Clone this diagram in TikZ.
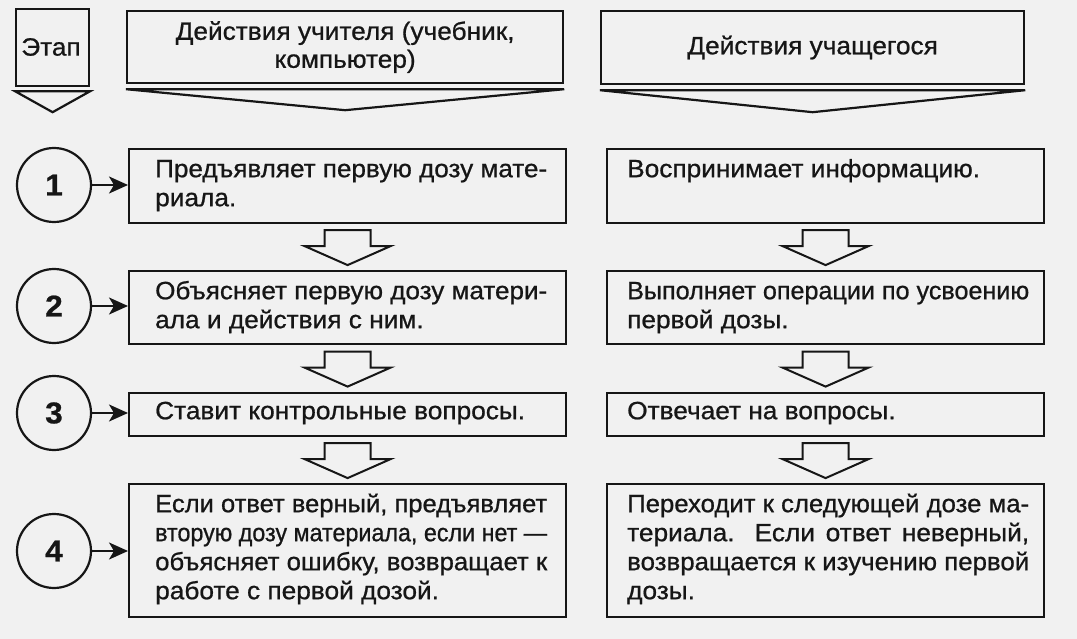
\documentclass[tikz,border=0pt]{standalone}
\usepackage{fontspec}
\setmainfont{Liberation Sans}[FakeBold=0.8,FakeStretch=1.05]
\usepackage{graphicx}
\usetikzlibrary{arrows.meta,calc}
\definecolor{paper}{RGB}{241,241,241}
\definecolor{ink}{RGB}{22,22,22}
\newlength\jlw
\newcommand\jl[2]{\settowidth\jlw{#2}\ifdim\jlw>#1\relax\resizebox{#1}{\height}{#2}\else\makebox[#1][s]{#2}\fi}
\newcommand\fl{\rule{0pt}{22pt}}
\tikzset{
  frame/.style={draw=ink, line width=2.2pt, inner sep=0pt, anchor=north west},
  txt/.style={inner sep=0pt, align=left, text=ink, anchor=north west, font=\fontsize{25}{29}\selectfont},
  htxt/.style={inner sep=0pt, align=center, text=ink, font=\fontsize{25}{28}\selectfont},
  stage/.style={circle, draw=ink, line width=2.2pt, minimum size=74pt, inner sep=0pt, text=ink, font=\bfseries\fontsize{30}{30}\selectfont},
  link/.style={draw=ink, line width=2.2pt, -{Stealth[length=19pt,width=17pt,inset=5pt]}},
  tri/.style={draw=ink, line width=2.2pt, line join=miter},
  blk/.style={draw=ink, line width=2pt, line join=miter},
  downblk/.pic={\draw[blk] (-23,-17) -- (-23,-1) -- (-43,-1) -- (0,18) -- (43,-1) -- (23,-1) -- (23,-17) -- cycle;}
}
\begin{document}
\begin{tikzpicture}[x=1pt,y=-1pt]
\fill[paper] (0,0) rectangle (1077,639);
\useasboundingbox (0,0) rectangle (1077,639);

% headers
\node[frame, minimum width=73pt, minimum height=77pt] (h0) at (15,8) {};
\node[htxt] (h0t) at (51,47) {Этап};
\draw[tri] ($(h0.south west)+(0,4)$) -- ($(h0.south)+(0,25)$) -- ($(h0.south east)+(0,4)$) -- cycle;

\node[frame, minimum width=436pt, minimum height=72pt] (h1) at (126,10) {};
\node[htxt] (h1t) at (h1.center) {Действия учителя (учебник,\\компьютер)};
\draw[tri] ($(h1.south west)+(0,5)$) -- ($(h1.south)+(0,26)$) -- ($(h1.south east)+(0,5)$) -- cycle;

\node[frame, minimum width=423pt, minimum height=73pt] (h2) at (600,10) {};
\node[htxt] (h2t) at (h2.center) {Действия учащегося};
\draw[tri] ($(h2.south west)+(0,5)$) -- ($(h2.south)+(0,27)$) -- ($(h2.south east)+(0,5)$) -- cycle;

% teacher boxes
\node[frame, minimum width=437pt, minimum height=74pt] (t1) at (128,148) {};
\node[frame, minimum width=437pt, minimum height=73pt] (t2) at (128,270) {};
\node[frame, minimum width=437pt, minimum height=43pt] (t3) at (128,392) {};
\node[frame, minimum width=437pt, minimum height=133pt] (t4) at (128,483) {};
% student boxes
\node[frame, minimum width=437pt, minimum height=74pt] (s1) at (606,148) {};
\node[frame, minimum width=437pt, minimum height=73pt] (s2) at (606,270) {};
\node[frame, minimum width=437pt, minimum height=43pt] (s3) at (606,392) {};
\node[frame, minimum width=437pt, minimum height=133pt] (s4) at (606,483) {};

% texts (first baseline = node top + 22pt)
\node[txt] (tt1) at (155,155) {\fl\jl{392pt}{Предъявляет первую дозу мате-}\\риала.};
\node[txt] (tt2) at (155,277) {\fl\jl{392pt}{Объясняет первую дозу матери-}\\ала и действия с ним.};
\node[txt] (tt3) at (155,397) {\fl Ставит контрольные вопросы.};
\node[txt] (tt4) at (155,490) {\fl\jl{392pt}{Если ответ верный, предъявляет}\\\jl{392pt}{вторую дозу материала, если нет —}\\\jl{392pt}{объясняет ошибку, возвращает к}\\работе с первой дозой.};

\node[txt] (st1) at (627,155) {\fl Воспринимает информацию.};
\node[txt] (st2) at (627,277) {\fl\jl{402pt}{Выполняет операции по усвоению}\\первой дозы.};
\node[txt] (st3) at (627,397) {\fl Отвечает на вопросы.};
\node[txt] (st4) at (627,490) {\fl\jl{402pt}{Переходит к следующей дозе ма-}\\\jl{402pt}{териала. Если ответ неверный,}\\\jl{402pt}{возвращается к изучению первой}\\дозы.};

% stages
\node[stage] (c1) at (54,185) {1};
\node[stage] (c2) at (54,306) {2};
\node[stage] (c3) at (54,413) {3};
\node[stage] (c4) at (54,551) {4};
\draw[link] (c1.east) -- (c1.east -| t1.west);
\draw[link] (c2.east) -- (c2.east -| t2.west);
\draw[link] (c3.east) -- (c3.east -| t3.west);
\draw[link] (c4.east) -- (c4.east -| t4.west);

% block arrows
\pic at ($(t1.south)!0.5!(t2.north)$) {downblk};
\pic at ($(t2.south)!0.5!(t3.north)$) {downblk};
\pic at ($(t3.south)!0.5!(t4.north)$) {downblk};
\pic at ($(s1.south)!0.5!(s2.north)$) {downblk};
\pic at ($(s2.south)!0.5!(s3.north)$) {downblk};
\pic at ($(s3.south)!0.5!(s4.north)$) {downblk};
\end{tikzpicture}
\end{document}
